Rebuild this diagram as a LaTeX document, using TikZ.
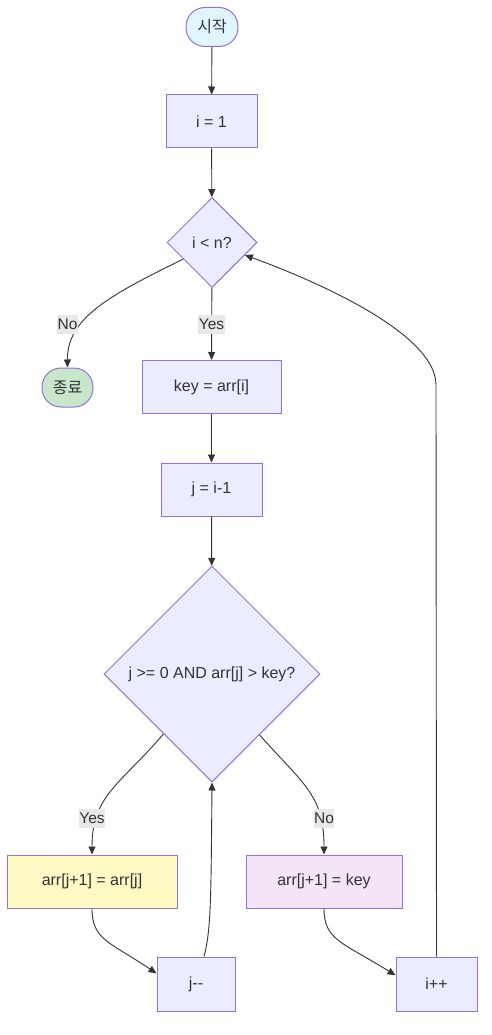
\documentclass[tikz,border=0pt]{standalone}
\usepackage{fontspec}
\setmainfont{Liberation Sans}
\newfontfamily\krfont{Noto Sans CJK KR}
\usetikzlibrary{shapes.geometric,arrows.meta,calc}
\definecolor{nodefill}{HTML}{ECECFF}
\definecolor{nodestroke}{HTML}{9370DB}
\definecolor{txt}{HTML}{333333}
\definecolor{startfill}{HTML}{E1F5FE}
\definecolor{endfill}{HTML}{C8E6C9}
\definecolor{yellowfill}{HTML}{FFF9C4}
\definecolor{pinkfill}{HTML}{F3E5F5}
\definecolor{lblfill}{HTML}{E8E8E8}
\begin{document}
\begin{tikzpicture}[x=1pt,y=-1pt,
  base/.style={draw=nodestroke, line width=1pt, text=txt, font=\fontsize{16}{19}\selectfont, inner sep=0pt},
  box/.style={base, fill=nodefill, rectangle, minimum height=53pt},
  pill/.style={base, rectangle, rounded corners=19pt, minimum height=39pt, minimum width=52pt},
  decision/.style={base, fill=nodefill, diamond, aspect=1},
  edge/.style={draw=txt, line width=0.9pt, -{Triangle[length=8pt,width=7pt]}},
  lbl/.style={fill=lblfill, text=txt, font=\fontsize{15.5}{18}\selectfont, inner xsep=0.5pt, inner ysep=4pt}
]
\useasboundingbox (0,0) rectangle (492,1035);
% nodes
\node[pill, fill=startfill] (start) at (212,27) {\krfont 시작};
\node[box, minimum width=91pt] (init) at (211.5,121.5) {i = 1};
\node[decision, minimum width=90pt, minimum height=90pt] (d1) at (212,242.5) {i < n?};
\node[pill, fill=endfill, minimum width=51pt] (end) at (67.5,387.5) {\krfont 종료};
\node[box, minimum width=139pt] (key) at (211.5,387) {key = arr[i]};
\node[box, minimum width=101pt] (jset) at (211.5,489.5) {j = i-1};
\node[decision, minimum width=216pt, minimum height=216pt] (d2) at (212,674) {j >= 0 AND arr[j] > key?};
\node[box, fill=yellowfill, minimum width=170pt] (shift) at (92,881.5) {arr[j+1] = arr[j]};
\node[box, fill=pinkfill, minimum width=156pt] (place) at (324,881.5) {arr[j+1] = key};
\node[box, minimum width=78pt, minimum height=54pt] (jdec) at (196,984) {j{-}{-}};
\node[box, minimum width=81pt, minimum height=54pt] (iinc) at (436.5,984) {i++};
% edges
\draw[edge] (start) -- (init);
\draw[edge] (init) -- (d1);
\draw[edge] (d1.210) .. controls (110,295) and (67,318) .. (end.north);
\draw[edge] (d1) -- (key);
\draw[edge] (key) -- (jset);
\draw[edge] (jset) -- (d2);
\draw[edge] (d2.231) .. controls (120,785) and (92,795) .. (shift.north);
\draw[edge] (d2.-52) .. controls (304,785) and (324,795) .. (place.north);
\draw[edge] (shift.south) .. controls (92,940) and (110,942) .. (jdec.165);
\draw[edge] ($(jdec.north)+(8,0)$) .. controls (211,930) and (211,900) .. (d2.south);
\draw[edge] (place.south) .. controls (324,940) and (342,942) .. (iinc.168);
\draw[edge] (iinc.north) -- (436,385) .. controls (436,330) and (300,275) .. (d1.-21);
% labels
\node[lbl] (lno1) at (67.5,324.5) {No};
\node[lbl] (lyes1) at (211.5,324.5) {Yes};
\node[lbl] (lyes2) at (92,818.5) {Yes};
\node[lbl] (lno2) at (324,818.5) {No};
\end{tikzpicture}
\end{document}
